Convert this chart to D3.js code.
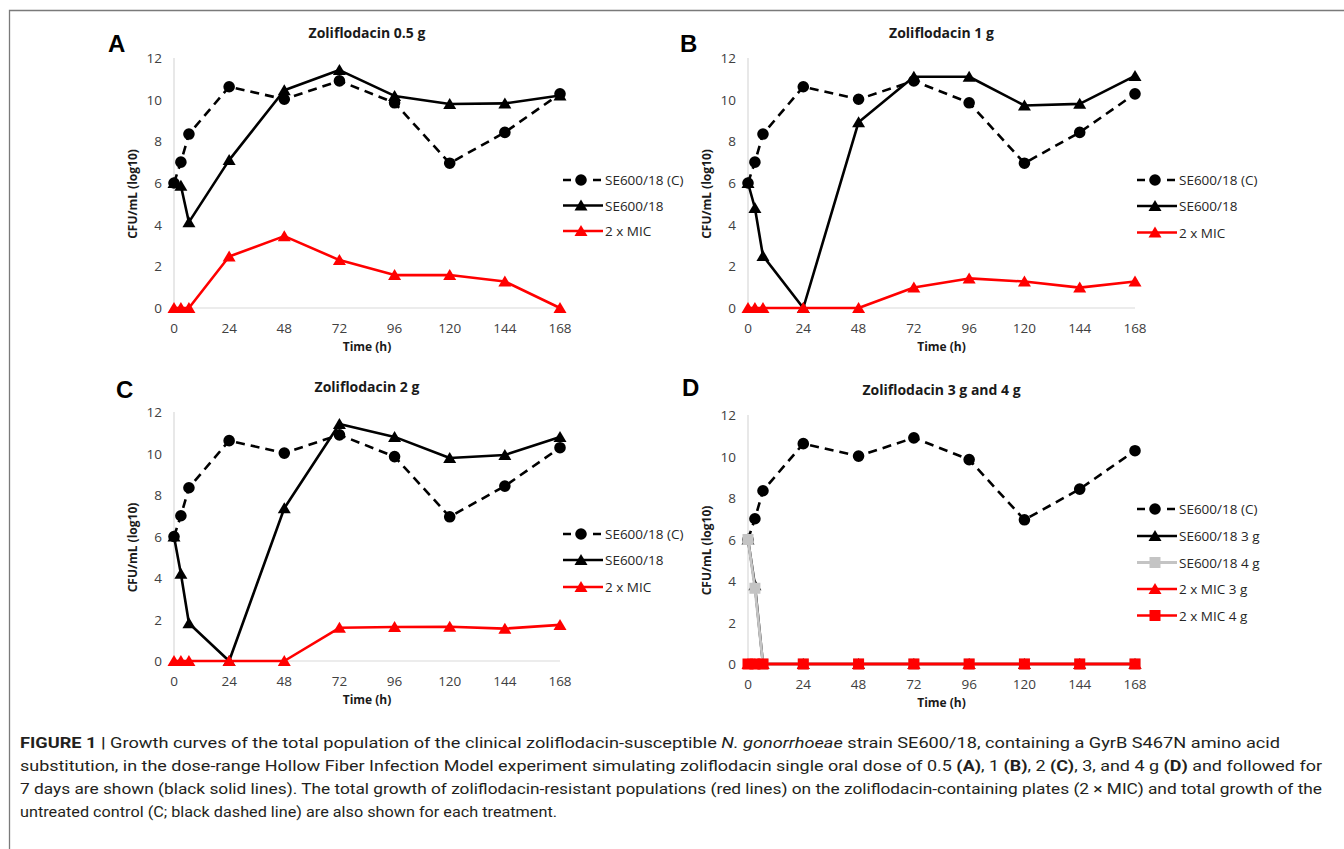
<!DOCTYPE html>
<html>
<head>
<meta charset="utf-8">
<script src="https://cdn.jsdelivr.net/npm/d3@7"></script>
<style>
    body { margin: 0; background: #ffffff; }
    svg { display: block; }
</style>
</head>
<body>
<svg id="figure" width="1344" height="849"></svg>
<script>

// sampling times (h) and axis ticks
var hours = [0, 3, 6.5, 24, 48, 72, 96, 120, 144, 168];
var xTicks = [0, 24, 48, 72, 96, 120, 144, 168];
var yTicks = [0, 2, 4, 6, 8, 10, 12];

// untreated control, same curve in every panel
var control = [6.0, 7.0, 8.35, 10.62, 10.02, 10.9, 9.85, 6.95, 8.43, 10.28];

// panel A, 0.5 g
var total05 = [6.0, 5.87, 4.12, 7.1, 10.45, 11.42, 10.18, 9.79, 9.82, 10.2];
var mic05 = [0, 0, 0, 2.47, 3.45, 2.3, 1.58, 1.58, 1.27, 0];

// panel B, 1 g
var total1 = [6.0, 4.8, 2.5, 0, 8.92, 11.1, 11.1, 9.72, 9.8, 11.14];
var mic1 = [0, 0, 0, 0, 0, 0.98, 1.42, 1.27, 0.98, 1.27];

// panel C, 2 g
var total2 = [6.0, 4.2, 1.82, 0, 7.36, 11.42, 10.8, 9.78, 9.93, 10.8];
var mic2 = [0, 0, 0, 0, 0, 1.6, 1.64, 1.65, 1.56, 1.74];

// panel D, 3 g and 4 g
var total3 = [6.0, 3.8, 0, 0, 0, 0, 0, 0, 0, 0];
var total4 = [6.0, 3.65, 0, 0, 0, 0, 0, 0, 0, 0];
var mic3 = [0, 0, 0, 0, 0, 0, 0, 0, 0, 0];
var mic4 = [0, 0, 0, 0, 0, 0, 0, 0, 0, 0];

// caption lines
var captionLines = [
    [["b", "FIGURE 1 | "], ["", "Growth curves of the total population of the clinical zoliflodacin-susceptible "], ["i", "N. gonorrhoeae"], ["", " strain SE600/18, containing a GyrB S467N amino acid"]],
    [["", "substitution, in the dose-range Hollow Fiber Infection Model experiment simulating zoliflodacin single oral dose of 0.5 "], ["b", "(A)"], ["", ", 1 "], ["b", "(B)"], ["", ", 2 "], ["b", "(C)"], ["", ", 3, and 4 g "], ["b", "(D)"], ["", " and followed for"]],
    [["", "7 days are shown (black solid lines). The total growth of zoliflodacin-resistant populations (red lines) on the zoliflodacin-containing plates (2 \u00d7 MIC) and total growth of the"]],
    [["", "untreated control (C; black dashed line) are also shown for each treatment."]]
];
var captionWidths = [1260, 1302, 1302, 537];

var svg = d3.select("#figure");
var chartFont = "'Open Sans', 'Noto Sans', sans-serif";

// outer frame of the figure
svg.append("path")
    .attr("d", "M9.5,849 L9.5,10.5 L1344,10.5")
    .attr("fill", "none")
    .attr("stroke", "#7a7a7a")
    .attr("stroke-width", 1.3);

// marker shapes
function markerPath(shape) {
    if (shape == "circle") {
        return d3.symbol().type(d3.symbolCircle).size(Math.PI * 5.8 * 5.8)();
    }
    else if (shape == "triangle") {
        return "M0,-6 L6.5,5 L-6.5,5 Z";
    }
    else if (shape == "square") {
        return "M-5.5,-5.5 L5.5,-5.5 L5.5,5.5 L-5.5,5.5 Z";
    }
    return "";
};

// draw one panel of the figure
function drawPanel(p) {
    var g = svg.append("g");

    var x = d3.scaleLinear().domain([0, 168]).range([p.left, p.right]);
    var y = d3.scaleLinear().domain([0, 12]).range([p.bottom, p.top]);

    // axis lines
    g.append("line")
        .attr("x1", x(0)).attr("x2", x(0))
        .attr("y1", y(12)).attr("y2", y(0))
        .attr("stroke", "#d9d9d9").attr("stroke-width", 1.2);
    g.append("line")
        .attr("x1", x(0)).attr("x2", x(168))
        .attr("y1", y(0)).attr("y2", y(0))
        .attr("stroke", "#d9d9d9").attr("stroke-width", 1.2);

    // tick labels
    g.selectAll(".ytick")
        .data(yTicks)
        .enter().append("text")
        .attr("x", p.left - 12)
        .attr("y", function(d) { return y(d) + 5; })
        .attr("text-anchor", "end")
        .attr("font-family", chartFont)
        .attr("font-size", 13.5)
        .attr("fill", "#404040")
        .text(function(d) { return d; });
    g.selectAll(".xtick")
        .data(xTicks)
        .enter().append("text")
        .attr("x", function(d) { return x(d); })
        .attr("y", p.bottom + 25)
        .attr("text-anchor", "middle")
        .attr("font-family", chartFont)
        .attr("font-size", 13.5)
        .attr("fill", "#404040")
        .text(function(d) { return d; });

    // title, axis titles and panel letter
    g.append("text")
        .attr("x", (p.left + p.right) / 2)
        .attr("y", p.top - 20)
        .attr("text-anchor", "middle")
        .attr("font-family", chartFont)
        .attr("font-size", 14)
        .attr("font-weight", "bold")
        .attr("fill", "#1a1a1a")
        .text(p.title);
    g.append("text")
        .attr("x", (p.left + p.right) / 2)
        .attr("y", p.bottom + 43)
        .attr("text-anchor", "middle")
        .attr("font-family", chartFont)
        .attr("font-size", 12)
        .attr("font-weight", "bold")
        .attr("fill", "#1a1a1a")
        .text("Time (h)");
    g.append("text")
        .attr("transform", "translate(" + (p.left - 37) + "," + ((p.top + p.bottom) / 2 + 11) + ") rotate(-90)")
        .attr("text-anchor", "middle")
        .attr("font-family", chartFont)
        .attr("font-size", 12)
        .attr("font-weight", "bold")
        .attr("fill", "#1a1a1a")
        .text("CFU/mL (log10)");
    g.append("text")
        .attr("x", p.letterX)
        .attr("y", p.letterY)
        .attr("font-family", "'Liberation Sans', Arial, sans-serif")
        .attr("font-size", 24)
        .attr("font-weight", "bold")
        .attr("fill", "#000")
        .text(p.letter);

    // series lines and markers
    var line = d3.line()
        .x(function(d, i) { return x(hours[i]); })
        .y(function(d) { return y(d); });

    p.series.forEach(function(s) {
        g.append("path")
            .attr("d", line(s.values))
            .attr("fill", "none")
            .attr("stroke", s.color)
            .attr("stroke-width", s.width)
            .attr("stroke-dasharray", s.dash ? "9,6" : null)
            .attr("stroke-linejoin", "round");
        g.selectAll(".m")
            .data(s.values)
            .enter().append("path")
            .attr("transform", function(d, i) { return "translate(" + x(hours[i]) + "," + y(d) + ")"; })
            .attr("d", markerPath(s.shape))
            .attr("fill", s.color);
    });

    // legend
    p.series.forEach(function(s, i) {
        var ly = p.legendY[i];
        g.append("line")
            .attr("x1", p.legendX).attr("x2", p.legendX + 40)
            .attr("y1", ly).attr("y2", ly)
            .attr("stroke", s.color)
            .attr("stroke-width", s.width)
            .attr("stroke-dasharray", s.dash ? "8,7" : null);
        g.append("path")
            .attr("transform", "translate(" + (p.legendX + 18) + "," + ly + ")")
            .attr("d", markerPath(s.shape))
            .attr("fill", s.color);
        g.append("text")
            .attr("x", p.legendX + 42)
            .attr("y", ly + 5)
            .attr("font-family", chartFont)
            .attr("font-size", 13.5)
            .attr("fill", "#262626")
            .text(s.name);
    });
};

// series styles shared by the panels
function controlSeries() {
    return { name: "SE600/18 (C)", values: control, color: "#000", width: 2.6, dash: true, shape: "circle" };
};
function totalSeries(name, values) {
    return { name: name, values: values, color: "#000", width: 2.6, dash: false, shape: "triangle" };
};
function micSeries(name, values, shape) {
    return { name: name, values: values, color: "#ff0000", width: 2.6, dash: false, shape: shape };
};

drawPanel({
    left: 174, right: 560, top: 58, bottom: 308,
    title: "Zoliflodacin 0.5 g", letter: "A", letterX: 108, letterY: 52,
    legendX: 563, legendY: [180, 205.5, 231],
    series: [controlSeries(), totalSeries("SE600/18", total05), micSeries("2 x MIC", mic05, "triangle")]
});
drawPanel({
    left: 748, right: 1135, top: 58, bottom: 308,
    title: "Zoliflodacin 1 g", letter: "B", letterX: 680, letterY: 52,
    legendX: 1137, legendY: [180, 206, 232.5],
    series: [controlSeries(), totalSeries("SE600/18", total1), micSeries("2 x MIC", mic1, "triangle")]
});
drawPanel({
    left: 174, right: 560, top: 412, bottom: 661,
    title: "Zoliflodacin 2 g", letter: "C", letterX: 116, letterY: 398,
    legendX: 563, legendY: [534, 560, 587],
    series: [controlSeries(), totalSeries("SE600/18", total2), micSeries("2 x MIC", mic2, "triangle")]
});
drawPanel({
    left: 748, right: 1135, top: 415, bottom: 664,
    title: "Zoliflodacin 3 g and 4 g", letter: "D", letterX: 682, letterY: 396,
    legendX: 1137, legendY: [509, 536, 562.5, 589, 615.5],
    series: [
        controlSeries(),
        totalSeries("SE600/18 3 g", total3),
        { name: "SE600/18 4 g", values: total4, color: "#c4c4c4", width: 2.8, dash: false, shape: "square" },
        micSeries("2 x MIC 3 g", mic3, "triangle"),
        micSeries("2 x MIC 4 g", mic4, "square")
    ]
});

// figure caption
captionLines.forEach(function(parts, i) {
    var t = svg.append("text")
        .attr("x", 20)
        .attr("y", 748 + i * 23)
        .attr("font-family", "Roboto, 'Liberation Sans', sans-serif")
        .attr("font-size", 15)
        .attr("fill", "#231f20")
        .attr("textLength", captionWidths[i])
        .attr("lengthAdjust", "spacingAndGlyphs");
    parts.forEach(function(part) {
        t.append("tspan")
            .attr("font-weight", part[0] == "b" ? "bold" : null)
            .attr("font-style", part[0] == "i" ? "italic" : null)
            .text(part[1]);
    });
});

</script>
</body>
</html>
